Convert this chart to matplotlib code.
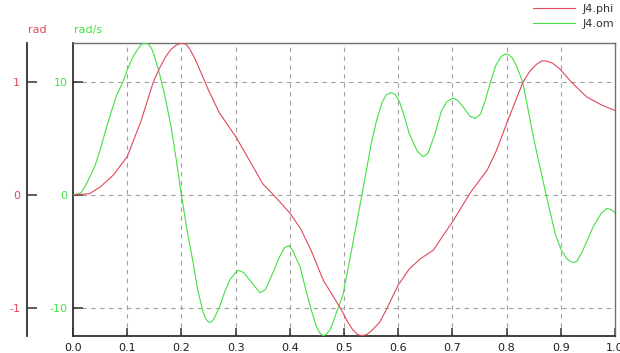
import matplotlib
matplotlib.use("Agg")
import matplotlib.pyplot as plt

# J4.om (rad/s)
t_om = [0.0, 0.015, 0.025, 0.04, 0.05, 0.06, 0.07, 0.08, 0.092, 0.1, 0.11, 0.12, 0.127,
        0.133, 0.139, 0.145, 0.15, 0.16, 0.17, 0.18, 0.19, 0.2, 0.21, 0.22, 0.23, 0.24,
        0.245, 0.25, 0.255, 0.26, 0.27, 0.28, 0.29, 0.3, 0.305, 0.315, 0.33, 0.345,
        0.355, 0.37, 0.38, 0.39, 0.398, 0.405, 0.419, 0.43, 0.44, 0.45, 0.456, 0.461,
        0.467, 0.474, 0.48, 0.487, 0.498, 0.514, 0.533, 0.55, 0.56, 0.57, 0.578, 0.587,
        0.595, 0.603, 0.61, 0.62, 0.635, 0.646, 0.655, 0.667, 0.68, 0.69, 0.701, 0.71,
        0.72, 0.732, 0.743, 0.752, 0.76, 0.77, 0.78, 0.79, 0.797, 0.803, 0.81, 0.818,
        0.83, 0.85, 0.873, 0.89, 0.9, 0.91, 0.917, 0.923, 0.93, 0.94, 0.96, 0.975,
        0.985, 0.993, 1.0]
om = [0.0, 0.2, 1.0, 2.5, 4.0, 5.7, 7.3, 8.8, 10.0, 11.1, 12.2, 13.0, 13.4,
      13.5, 13.4, 13.0, 12.4, 10.7, 8.7, 6.3, 3.3, 0.0, -3.0, -5.6, -8.4, -10.4,
      -11.0, -11.3, -11.3, -11.0, -10.0, -8.6, -7.5, -6.9, -6.7, -6.9, -7.8, -8.7,
      -8.4, -6.8, -5.6, -4.7, -4.5, -4.9, -6.4, -8.5, -10.3, -11.8, -12.3, -12.5,
      -12.4, -12.0, -11.3, -10.3, -8.9, -4.9, 0.0, 4.5, 6.6, 8.2, 8.9, 9.1,
      8.9, 8.2, 7.2, 5.5, 3.9, 3.4, 3.7, 5.3, 7.5, 8.3, 8.6, 8.4, 7.8, 7.0, 6.8,
      7.2, 8.3, 10.0, 11.5, 12.3, 12.5, 12.5, 12.2, 11.5, 10.0, 5.0, 0.0, -3.5,
      -4.8, -5.6, -5.9, -6.0, -5.9, -5.0, -2.8, -1.6, -1.2, -1.3, -1.6]

# J4.phi (rad)
t_phi = [0.0, 0.03, 0.05, 0.075, 0.1, 0.125, 0.148, 0.16, 0.17, 0.18, 0.19, 0.2, 0.208,
         0.215, 0.225, 0.235, 0.25, 0.27, 0.3, 0.33, 0.35, 0.37, 0.4, 0.42, 0.44, 0.462,
         0.48, 0.495, 0.507, 0.515, 0.525, 0.533, 0.542, 0.55, 0.566, 0.58, 0.6, 0.62,
         0.64, 0.665, 0.68, 0.7, 0.733, 0.764, 0.78, 0.803, 0.83, 0.843, 0.855, 0.865,
         0.873, 0.885, 0.898, 0.92, 0.948, 0.975, 1.0]
phi = [0.0, 0.01, 0.07, 0.18, 0.34, 0.65, 1.0, 1.13, 1.22, 1.29, 1.33, 1.35, 1.34,
       1.3, 1.21, 1.1, 0.93, 0.73, 0.52, 0.27, 0.1, 0.0, -0.16, -0.3, -0.5, -0.76,
       -0.9, -1.02, -1.13, -1.19, -1.24, -1.25, -1.24, -1.21, -1.13, -1.0, -0.8, -0.66,
       -0.57, -0.49, -0.38, -0.24, 0.02, 0.22, 0.38, 0.67, 1.0, 1.1, 1.16, 1.19,
       1.19, 1.17, 1.12, 1.0, 0.87, 0.8, 0.75]

x_ticks = [0.0, 0.1, 0.2, 0.3, 0.4, 0.5, 0.6, 0.7, 0.8, 0.9, 1.0]
x_labels = ["0.0", "0.1", "0.2", "0.3", "0.4", "0.5", "0.6", "0.7", "0.8", "0.9", "1.0"]
om_ticks = [-10, 0, 10]
phi_ticks = [-1, 0, 1]

RED = "#e2475a"
GREEN = "#44e044"
SPINE = "#303030"

plt.rcParams["font.family"] = "DejaVu Sans"
plt.rcParams["font.size"] = 8
plt.rcParams["axes.unicode_minus"] = False

W, H = 620, 353
fig = plt.figure(figsize=(W / 100, H / 100), dpi=100)
ax = fig.add_axes([73 / W, 1 - 336 / H, (615 - 73) / W, (336 - 43) / H])

ax.plot(t_om, om, color=GREEN, lw=0.8, label="J4.om", zorder=3)
ax.set_xlim(0, 1)
ax.set_ylim(-12.53, 13.5)
ax.set_xticks(x_ticks)
ax.set_xticklabels(x_labels)
ax.set_yticks(om_ticks)
ax.tick_params(axis="y", direction="in", length=7.2, width=1.1, colors=SPINE,
               labelcolor=GREEN, pad=4)
ax.tick_params(axis="x", direction="in", length=5.5, width=1.1, colors=SPINE,
               labelcolor="#202020", pad=5, top=False)

for xv in x_ticks[1:-1]:
    ax.axvline(xv, color="#a0a0a0", lw=0.8, ls=(0, (4, 4)), zorder=1)
for yv in om_ticks:
    ax.axhline(yv, color="#a0a0a0", lw=0.8, ls=(0, (4, 4)), zorder=1)

for side in ["left", "bottom"]:
    ax.spines[side].set_color(SPINE)
    ax.spines[side].set_linewidth(1.3)
for side in ["top", "right"]:
    ax.spines[side].set_color("#707070")
    ax.spines[side].set_linewidth(1.0)

# red axis, spine moved out to the left (46 px = 33 pt)
axr = ax.twinx()
axr.plot(t_phi, phi, color=RED, lw=0.8, label="J4.phi", zorder=3)
axr.set_ylim(-1.253, 1.35)
axr.set_yticks(phi_ticks)
axr.yaxis.tick_left()
axr.spines["left"].set_position(("outward", 33))
axr.spines["left"].set_visible(True)
axr.spines["left"].set_color(SPINE)
axr.spines["left"].set_linewidth(1.3)
for side in ["right", "top", "bottom"]:
    axr.spines[side].set_visible(False)
axr.tick_params(axis="y", direction="in", length=7.2, width=1.1, colors=SPINE,
                labelcolor=RED, pad=5)

fig.text(28 / W, 1 - 30 / H, "rad", color=RED, ha="left", va="center", fontsize=8)
fig.text(74 / W, 1 - 30 / H, "rad/s", color=GREEN, ha="left", va="center", fontsize=8)

h1, l1 = axr.get_legend_handles_labels()
h2, l2 = ax.get_legend_handles_labels()
fig.legend(h1 + h2, l1 + l2, loc="upper left", bbox_to_anchor=(533 / W, 1 - 4 / H),
           frameon=False, borderpad=0, borderaxespad=0, handlelength=3.8,
           handletextpad=0.7, labelspacing=0.45, fontsize=8, labelcolor="#303030")

fig.savefig("out.png", dpi=100)
